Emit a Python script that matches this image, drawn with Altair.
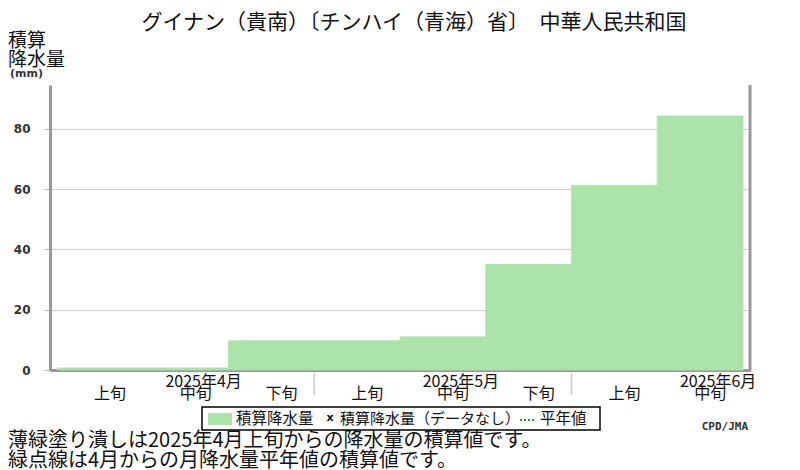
import altair as alt
import pandas as pd

# ---- data ----
dekad_labels = ["上旬", "中旬", "下旬", "上旬", "中旬", "下旬", "上旬", "中旬"]
month_labels = ["2025年4月", "2025年5月", "2025年6月"]
month_label_dekad = [1, 4, 7]
month_boundaries = [3, 6]
precip = [0.7, 0.7, 9.7, 9.7, 11.0, 35.0, 61.3, 84.3]
y_ticks = [0, 20, 40, 60, 80]

title_text = "グイナン（貴南）〔チンハイ（青海）省〕　中華人民共和国"
legend_items = ["積算降水量", "積算降水量（データなし）", "平年値"]
notes = ["薄緑塗り潰しは2025年4月上旬からの降水量の積算値です。",
         "緑点線は4月からの月降水量平年値の積算値です。"]
credit = "CPD/JMA"

W, H = 700, 285
JP = "Noto Sans CJK JP"
GREEN = "#abe3ab"
AXIS_GRAY = "#999999"

bars_df = pd.DataFrame({
    "start": list(range(len(precip))),
    "end": [i + 1 for i in range(len(precip))],
    "mid": [i + 0.5 for i in range(len(precip))],
    "value": precip,
    "dekad": dekad_labels,
})
months_df = pd.DataFrame({"mid": [d + 0.5 for d in month_label_dekad], "label": month_labels})
bound_df = pd.DataFrame({"b": month_boundaries})

pad = 7 / 85.75
xscale = alt.Scale(domain=[-pad, len(precip) + pad], nice=False, zero=False)
yscale = alt.Scale(domain=[0, 94.6], nice=False)

bars = alt.Chart(bars_df).mark_rect(color=GREEN, stroke=GREEN, strokeWidth=0.8).encode(
    x=alt.X("start:Q", scale=xscale,
            axis=alt.Axis(labels=False, ticks=False, grid=False, title=None,
                          domainColor=AXIS_GRAY, domainWidth=3)),
    x2="end:Q",
    y=alt.Y("value:Q", scale=yscale,
            axis=alt.Axis(values=y_ticks, title=None, grid=True, gridColor="#d3d3d3",
                          gridWidth=1, tickColor="#bbbbbb", tickSize=6,
                          labelFont="DejaVu Sans", labelFontWeight="bold",
                          labelFontSize=12, labelColor="#333333", labelPadding=14,
                          domainColor=AXIS_GRAY, domainWidth=3)),
    y2=alt.datum(0),
)

dekad_text = alt.Chart(bars_df).mark_text(
    font=JP, fontSize=16, color="#111111", dx=10, baseline="middle"
).encode(x=alt.X("mid:Q", scale=xscale), y=alt.value(309), text="dekad:N")

month_text = alt.Chart(months_df).mark_text(
    font=JP, fontSize=16, color="#111111", dx=18, baseline="middle"
).encode(x=alt.X("mid:Q", scale=xscale), y=alt.value(297), text="label:N")

seps = alt.Chart(bound_df).mark_rule(color="#cccccc", strokeWidth=1.5).encode(
    x=alt.X("b:Q", scale=xscale), y=alt.value(288), y2=alt.value(310)
)

right_line = alt.Chart(pd.DataFrame({"a": [0]})).mark_rule(
    color=AXIS_GRAY, strokeWidth=3
).encode(x=alt.value(W), y=alt.value(0), y2=alt.value(H + 1.5))


def txt(s, x, y, size, align="left", font=JP, weight="normal", color="#111111"):
    return alt.Chart(pd.DataFrame({"t": [s]})).mark_text(
        font=font, fontSize=size, align=align, baseline="middle",
        fontWeight=weight, color=color
    ).encode(x=alt.value(x), y=alt.value(y), text="t:N")


title = txt(title_text, 364, -62, 21, align="center")
ytitle1 = txt("積算", -42, -44, 19)
ytitle2 = txt("降水量", -42, -25, 19)
ytitle3 = txt("(mm)", -40, -11, 11, font="DejaVu Sans", weight="bold", color="#333333")

# legend
one = pd.DataFrame({"a": [0]})
leg_box = alt.Chart(one).mark_rect(fill="white", stroke="black", strokeWidth=1.5).encode(
    x=alt.value(152), x2=alt.value(550), y=alt.value(322), y2=alt.value(345)
)
leg_swatch = alt.Chart(one).mark_rect(color=GREEN).encode(
    x=alt.value(158), x2=alt.value(182), y=alt.value(328), y2=alt.value(340)
)
leg_t1 = txt(legend_items[0], 186, 334, 15.5)
leg_x = txt("x", 280, 333, 11, align="center", font="DejaVu Sans", weight="bold")
leg_t2 = txt(legend_items[1], 290, 334, 15)
leg_dot = alt.Chart(one).mark_rule(color="#2e9a2e", strokeWidth=2, strokeDash=[2, 2]).encode(
    x=alt.value(470), x2=alt.value(486), y=alt.value(335)
)
leg_t3 = txt(legend_items[2], 490, 334, 15.5)

note1 = txt(notes[0], -42, 356, 20)
note2 = txt(notes[1], -42, 376, 20)
cred = txt(credit, 698, 342, 11, align="right", font="DejaVu Sans Mono", weight="bold",
           color="#333333")

chart = alt.layer(
    bars, seps, right_line, dekad_text, month_text, title, ytitle1, ytitle2, ytitle3,
    leg_box, leg_swatch, leg_t1, leg_x, leg_t2, leg_dot, leg_t3, note1, note2, cred
).properties(
    width=W, height=H,
    autosize=alt.AutoSizeParams(type="none"),
    padding={"left": 42, "top": 77, "right": 34, "bottom": 100},
    background="white",
).configure_view(stroke=None)

chart.save("out.html", embed_options={"renderer": "svg", "actions": False})
